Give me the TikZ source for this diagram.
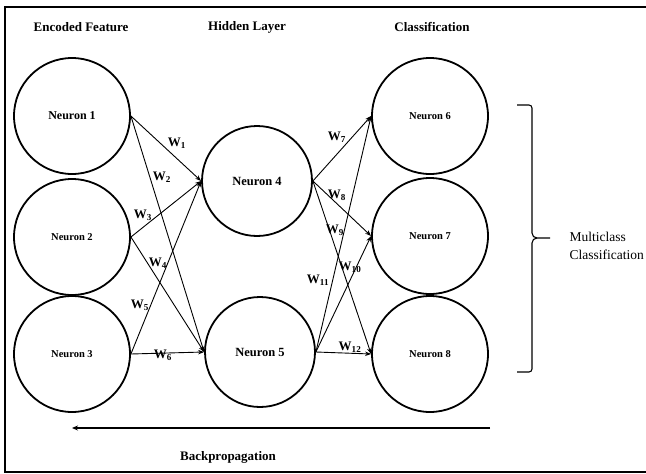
\documentclass[tikz,border=0pt]{standalone}
\usepackage{fontspec}
\setmainfont{Liberation Serif}
\usetikzlibrary{arrows.meta}
\tikzset{
  neuron/.style={circle, draw, line width=1.8pt, minimum size=116pt, inner sep=0pt, font=\bfseries\fontsize{10.5}{12}\selectfont},
  hidden/.style={neuron, minimum size=110pt, font=\bfseries\fontsize{12.5}{14}\selectfont},
  conn/.style={line width=0.9pt, -{Stealth[length=6pt,width=4.5pt]}},
  wlab/.style={font=\bfseries\fontsize{13}{14}\selectfont, inner sep=0pt},
  head/.style={font=\bfseries\fontsize{13}{15}\selectfont},
}
\newcommand{\wl}[1]{W\textsubscript{#1}}
\begin{document}
\begin{tikzpicture}[x=1pt,y=-1pt]
\useasboundingbox (0,0) rectangle (646,474);
% frame (right side off the picture)
\draw[line width=2pt] (660,7) -- (5,7) -- (5,472) -- (660,472);
% headers
\node[head] (h1) at (81,27) {Encoded Feature};
\node[head] (h2) at (247,27) {Hidden Layer};
\node[head] (h3) at (432,27) {Classification};
% neurons
\node[neuron, font=\bfseries\fontsize{12}{14}\selectfont] (n1) at (72,116) {Neuron 1};
\node[neuron] (n2) at (72,237) {Neuron 2};
\node[neuron] (n3) at (72,354) {Neuron 3};
\node[hidden] (n4) at (257,181) {Neuron 4};
\node[hidden] (n5) at (260,352) {Neuron 5};
\node[neuron] (n6) at (430,116) {Neuron 6};
\node[neuron] (n7) at (430,236) {Neuron 7};
\node[neuron] (n8) at (430,354) {Neuron 8};
% connections
\draw[conn] (n1.east) -- (n4.west);
\draw[conn] (n1.east) -- (n5.west);
\draw[conn] (n2.east) -- (n4.west);
\draw[conn] (n2.east) -- (n5.west);
\draw[conn] (n3.east) -- (n4.west);
\draw[conn] (n3.east) -- (n5.west);
\draw[conn] (n4.east) -- (n6.west);
\draw[conn] (n4.east) -- (n7.west);
\draw[conn] (n4.east) -- (n8.west);
\draw[conn] (n5.east) -- (n6.west);
\draw[conn] (n5.east) -- (n7.west);
\draw[conn] (n5.east) -- (n8.west);
% weight labels
\node[wlab] (w1) at (177,143) {\wl{1}};
\node[wlab] (w2) at (162,177) {\wl{2}};
\node[wlab] (w3) at (143,215) {\wl{3}};
\node[wlab] (w4) at (158,263) {\wl{4}};
\node[wlab] (w5) at (140,305) {\wl{5}};
\node[wlab] (w6) at (163,355) {\wl{6}};
\node[wlab] (w7) at (337,137) {\wl{7}};
\node[wlab] (w8) at (337,195) {\wl{8}};
\node[wlab] (w9) at (335,230) {\wl{9}};
\node[wlab] (w10) at (350,267) {\wl{10}};
\node[wlab] (w11) at (318,280) {\wl{11}};
\node[wlab] (w12) at (350,347) {\wl{12}};
% brace
\draw[line width=1.1pt] (517,105) -- (529,105) to[out=0,in=90] (532,108) -- (532,233)
  to[out=-90,in=180] (537,238) -- (550,238);
\draw[line width=1.1pt] (517,372) -- (529,372) to[out=0,in=-90] (532,369) -- (532,243)
  to[out=90,in=180] (537,238);
\node[anchor=west, align=left, font=\fontsize{13.5}{18}\selectfont] (mc) at (566,246) {Multiclass\\Classification};
% backpropagation
\coordinate (bpstart) at (490,428);
\coordinate (bpend) at (72,428);
\draw[line width=1.2pt, -{Stealth[length=6pt,width=5pt]}] (bpstart) -- (bpend);
\node[head] (bp) at (228,457) {Backpropagation};
\end{tikzpicture}
\end{document}
